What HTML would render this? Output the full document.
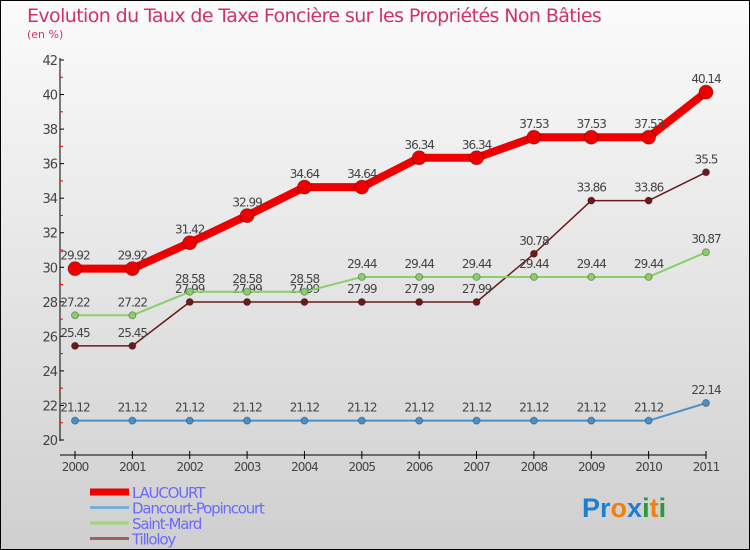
<!DOCTYPE html>
<html><head><meta charset="utf-8"><style>
body{margin:0}
#c{position:relative;width:748px;height:548px;border:1px solid #000;background:linear-gradient(#fbfbfb,#cfcfcf);font-family:"DejaVu Sans","Liberation Sans",sans-serif;overflow:hidden}
.t{position:absolute;left:26px;top:4px;font-size:19px;color:#d2306a;letter-spacing:-0.6px}
.s{position:absolute;left:26px;top:27px;font-size:11px;color:#d2306a}
</style></head><body>
<div id="c">
<div class="t">Evolution du Taux de Taxe Foncière sur les Propriétés Non Bâties</div>
<div class="s">(en %)</div>
<svg id="svg" width="750" height="550" style="position:absolute;left:-1px;top:-1px"></svg>
</div>
<script>
const years=[2000,2001,2002,2003,2004,2005,2006,2007,2008,2009,2010,2011];
const laucourt=[29.92,29.92,31.42,32.99,34.64,34.64,36.34,36.34,37.53,37.53,37.53,40.14];
const dancourt=[21.12,21.12,21.12,21.12,21.12,21.12,21.12,21.12,21.12,21.12,21.12,22.14];
const saintMard=[27.22,27.22,28.58,28.58,28.58,29.44,29.44,29.44,29.44,29.44,29.44,30.87];
const tilloloy=[25.45,25.45,27.99,27.99,27.99,27.99,27.99,27.99,30.78,33.86,33.86,35.5];
const yTicks=[20,22,24,26,28,30,32,34,36,38,40,42];
const names=["LAUCOURT","Dancourt-Popincourt","Saint-Mard","Tilloloy"];
const svg=document.getElementById('svg');const NS='http://www.w3.org/2000/svg';
const X=i=>75+i*(706-75)/11, Y=v=>440-(v-20)*(380/22);
function el(t,a,p){const e=document.createElementNS(NS,t);for(const k in a)e.setAttribute(k,a[k]);(p||svg).appendChild(e);return e;}
let e=el('line',{x1:60,y1:58,x2:60,y2:441,stroke:'#000'});


e=el('line',{x1:60,y1:455,x2:706,y2:455,stroke:'#000'});


yTicks.forEach((v,i)=>{el('line',{x1:60,x2:64,y1:Y(v),y2:Y(v),stroke:'#000'});
if(i<yTicks.length-1)el('line',{x1:60,x2:63,y1:Y(v+1),y2:Y(v+1),stroke:'#e00'});
const t=el('text',{x:57,y:Y(v)+5,'text-anchor':'end','font-size':13,fill:'#444','letter-spacing':'-1'});t.textContent=v;

});
years.forEach((y,i)=>{el('line',{x1:X(i),x2:X(i),y1:451,y2:459,stroke:'#000'});
const t=el('text',{x:X(i),y:466+5,'text-anchor':'middle','font-size':12,fill:'#444','letter-spacing':'-1'});t.textContent=y;

});
function series(d,col,w,r,name,lbl){
const p=el('polyline',{points:d.map((v,i)=>X(i)+','+Y(v)).join(' '),fill:'none',stroke:col,'stroke-width':w,'stroke-linejoin':'round'});


d.forEach((v,i)=>{const c=el('circle',{cx:X(i),cy:Y(v),r:r,fill:col,stroke:'rgba(0,0,0,0.3)'});


const t=el('text',{x:X(i),y:Y(v)-9,'text-anchor':'middle','font-size':12,fill:'#444','letter-spacing':'-1'});t.textContent=v;

});}
series(dancourt,'#4a90c8',2,3.5,'dancourt');
series(tilloloy,'#6b1a1a',1.5,3.5,'tilloloy');
series(saintMard,'#88d068',2,3.5,'saint-mard');
series(laucourt,'#ee0000',8,7,'laucourt');
const lc=['#ee0000','#7ab0d8','#9ad87a','#a06060'],lw=[7,3,3,3];
names.forEach((n,i)=>{const y=492+i*15.5;
const l=el('line',{x1:90,x2:129,y1:y,y2:y,stroke:lc[i],'stroke-width':lw[i]});


const t=el('text',{x:132,y:y+6,'font-size':15,fill:'#6a6aff','letter-spacing':'-1.2'});t.textContent=n;

});
const lg=el('text',{x:582,y:517,'font-size':27,'font-family':'Liberation Sans,sans-serif','font-weight':'bold'});


[['P','#1e7fd0'],['r','#1e7fd0'],['o','#f08010'],['x','#1e7fd0'],['i','#2a9a3a'],['t','#f08010'],['i','#2a9a3a']].forEach(([c,f])=>{const s=el('tspan',{fill:f},lg);s.textContent=c;});
</script>
</body></html>
